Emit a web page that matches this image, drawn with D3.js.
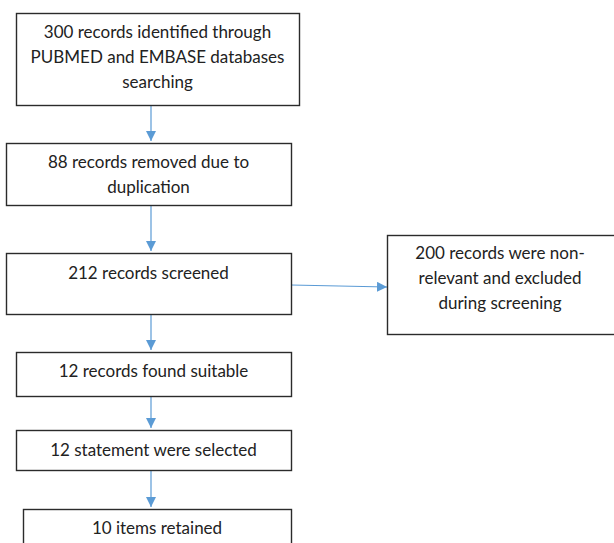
<!DOCTYPE html>
<html>
<head>
<meta charset="utf-8">
<script src="https://cdn.jsdelivr.net/npm/d3@7"></script>
<style>
  body { margin: 0; background: #fff; }
  text { font-family: Lato, "Open Sans", sans-serif; fill: #222; }
</style>
</head>
<body>
<div id="chart"></div>
<script>
// flow step labels
var stepLabels = [
    ["300 records identified through", "PUBMED and EMBASE databases", "searching"],
    ["88 records removed due to", "duplication"],
    ["212 records screened"],
    ["12 records found suitable"],
    ["12 statement were selected"],
    ["10 items retained"]
];
var sideLabel = ["200 records were non-", "relevant and excluded", "during screening"];

// box layout (x0, x1, y0, y1)
var boxes = [
    [16, 299, 13, 105],
    [6, 291, 143, 205],
    [6, 291, 253, 314],
    [16, 291, 352, 396],
    [16, 291, 430, 470],
    [23, 291, 509, 560]
];
var sideBox = [387, 620, 235, 334];
var textTop = [32, 162, 273, 371, 450, 528];
var lineGap = 25;

var width = 614, height = 543;

var svg = d3.select("#chart").append("svg")
    .attr("width", width)
    .attr("height", height);

var defs = svg.append("defs");
defs.append("marker")
    .attr("id", "head")
    .attr("viewBox", "0 0 10 10")
    .attr("refX", 10).attr("refY", 5)
    .attr("markerWidth", 10).attr("markerHeight", 10)
    .attr("markerUnits", "userSpaceOnUse")
    .attr("orient", "auto")
  .append("path")
    .attr("d", "M0,0L10,5L0,10Z")
    .attr("fill", "#5b9bd5");

var arrowX = 151;

// vertical arrows between boxes
for (var i = 0; i < boxes.length - 1; i++) {
    svg.append("line")
        .attr("x1", arrowX).attr("x2", arrowX)
        .attr("y1", boxes[i][3]).attr("y2", boxes[i + 1][2] - 2)
        .attr("stroke", "#5b9bd5")
        .attr("stroke-width", 1.2)
        .attr("marker-end", "url(#head)");
}

// side arrow
svg.append("line")
    .attr("x1", boxes[2][1]).attr("y1", 285)
    .attr("x2", sideBox[0]).attr("y2", 287)
    .attr("stroke", "#5b9bd5")
    .attr("stroke-width", 1.2)
    .attr("marker-end", "url(#head)");

function drawBox(b, lines, top, cx) {
    svg.append("rect")
        .attr("x", b[0] + 0.5).attr("y", b[2] + 0.5)
        .attr("width", b[1] - b[0]).attr("height", b[3] - b[2])
        .attr("fill", "#fff")
        .attr("stroke", "#2b2b2b")
        .attr("stroke-width", 1.4);

    svg.selectAll(null)
        .data(lines)
        .enter().append("text")
        .attr("x", cx)
        .attr("y", function(d, j) { return top + j * lineGap; })
        .attr("dy", "0.35em")
        .attr("text-anchor", "middle")
        .attr("font-size", 17)
        .text(function(d) { return d; });
}

boxes.forEach(function(b, i) {
    drawBox(b, stepLabels[i], textTop[i], (b[0] + b[1]) / 2);
});
drawBox(sideBox, sideLabel, 253, 500);
</script>
</body>
</html>
